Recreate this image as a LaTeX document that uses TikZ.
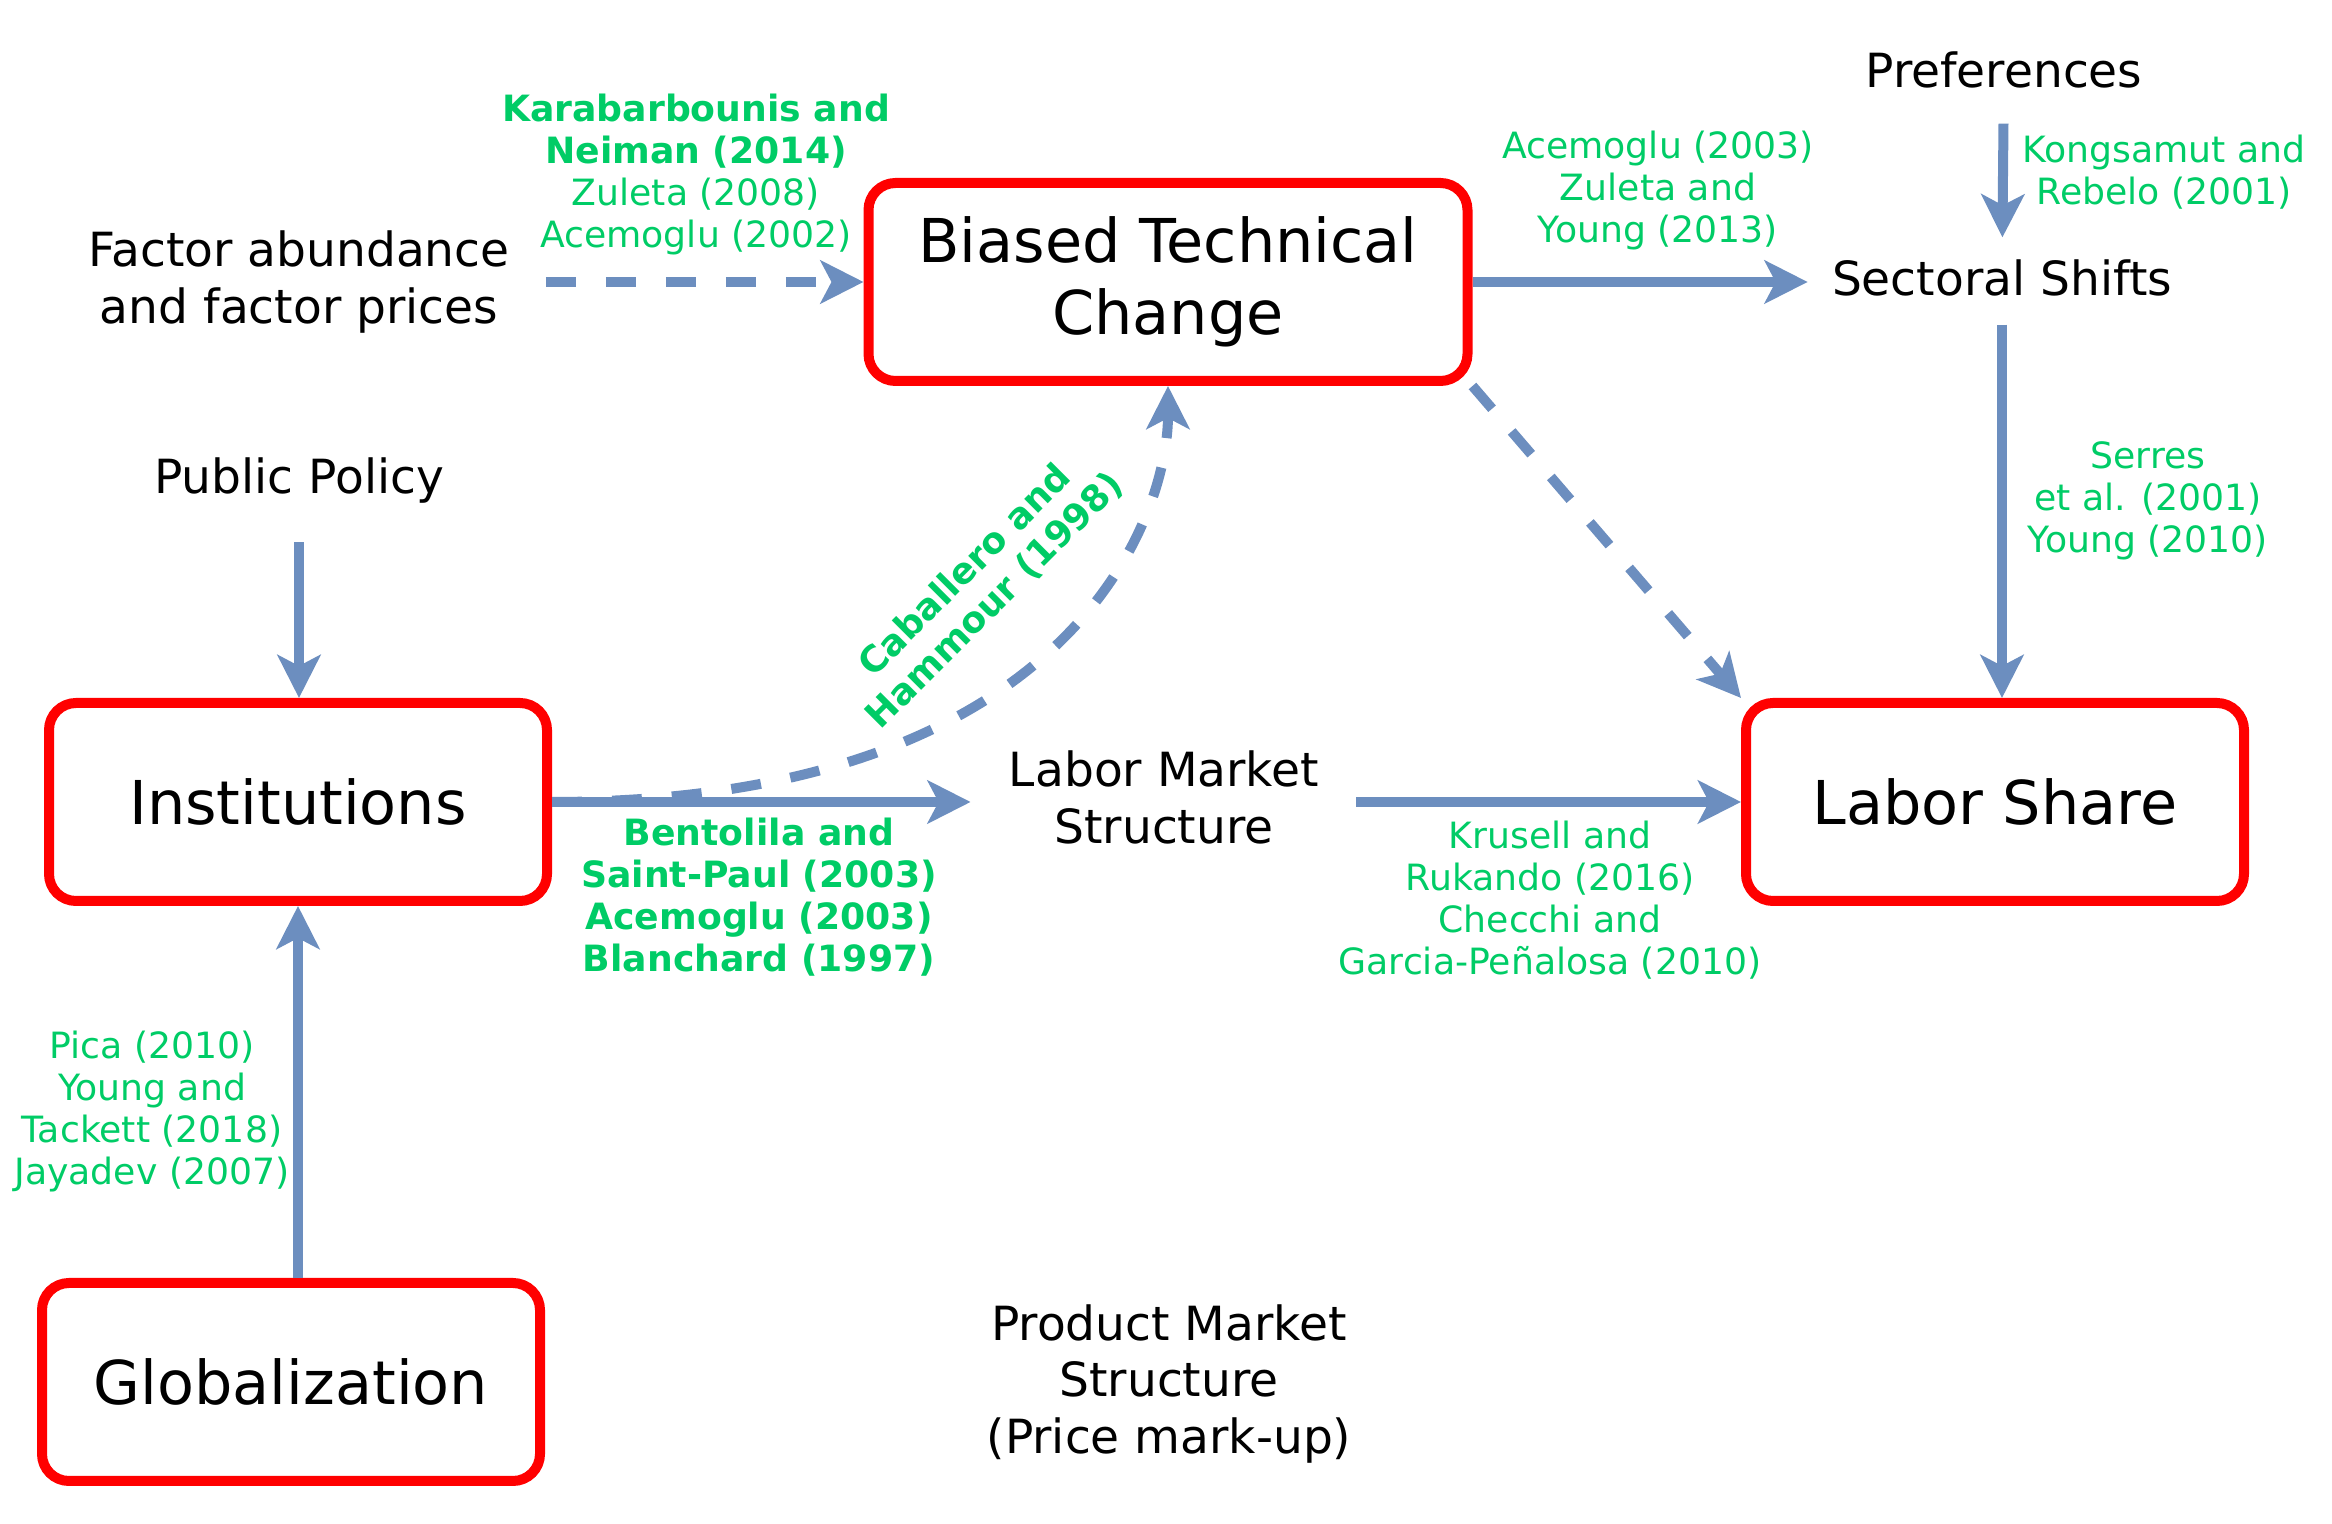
\documentclass[tikz,border=0pt]{standalone}
\usepackage{fontspec}
\setmainfont{DejaVu Sans}
\usetikzlibrary{arrows.meta}

\definecolor{boxred}{HTML}{FF0000}
\definecolor{linkblue}{HTML}{6C8EBF}
\definecolor{citegreen}{HTML}{00CC66}

\begin{document}
\begin{tikzpicture}
  \tikzset{factor/.style = {shape=rectangle,draw=boxred,line width=1mm,rounded corners=0.27cm,minimum width=4.98cm,minimum height=1.98cm,align=center,font=\fontsize{17.2}{20.5}\selectfont}}
  \tikzset{cause/.style = {align=center,font=\fontsize{13.4}{16.2}\selectfont}}
  \tikzset{cite/.style = {align=center,text=citegreen,font=\fontsize{10.3}{11.95}\selectfont}}
  \tikzset{citebold/.style = {cite,font=\fontsize{10.3}{11.95}\selectfont\bfseries}}
  \tikzset{link/.style = {-{Stealth[length=4.3mm,width=4.3mm,inset=1.1mm]},draw=linkblue,line width=1mm}}
  \tikzset{dashlink/.style = {link,dash pattern=on 3mm off 3mm}}
  \useasboundingbox (0,0) rectangle (23.32,15.24);

	\node[factor,minimum width=5.99cm] (btc) at (11.68,12.42) {Biased Technical\\Change};
	\node[factor] (inst) at (2.98,7.22) {Institutions};
	\node[factor] (ls) at (19.95,7.22) {Labor Share};
	\node[factor] (glob) at (2.91,1.42) {Globalization};

	\node[cause] (fab) at (2.99,12.42) {Factor abundance\\and factor prices};
	\node[cause] (pp) at (2.99,10.43) {Public Policy};
	\node[cause] (pref) at (20.04,14.54) {Preferences};
	\node[cause] (sect) at (20.02,12.46) {Sectoral Shifts};
	\node[cause] (lms) at (11.64,7.27) {Labor Market\\Structure};
	\node[cause] (pms) at (11.69,1.40) {Product Market\\Structure\\(Price mark-up)};

	\node[cite] (kn) at (6.96,13.49) {\textbf{Karabarbounis and}\\\textbf{Neiman (2014)}\\Zuleta (2008)\\Acemoglu (2002)};
	\node[cite] (azy) at (16.58,13.33) {Acemoglu (2003)\\Zuleta and\\Young (2013)};
	\node[cite] (kr) at (21.64,13.52) {Kongsamut and\\Rebelo (2001)};
	\node[cite] (sy) at (21.48,10.23) {Serres\\et al. (2001)\\Young (2010)};
	\node[citebold] (bsp) at (7.59,6.27) {Bentolila and\\Saint-Paul (2003)\\Acemoglu (2003)\\Blanchard (1997)};
	\node[cite] (krc) at (15.50,6.24) {Krusell and\\Rukando (2016)\\Checchi and\\Garcia-Peñalosa (2010)};
	\node[cite] (pyj) at (1.52,4.12) {Pica (2010)\\Young and\\Tackett (2018)\\Jayadev (2007)};
	\node[citebold,rotate=45] (ch) at (9.80,9.38) {Caballero and\\Hammour (1998)};

	\draw[dashlink,shorten <=0.24cm] (fab) -- (btc);
	\draw[link,shorten >=0.12cm] (btc) -- (sect.west |- btc);
	\draw[link,shorten <=0.23cm,shorten >=0.1cm] (pref) -- (sect);
	\draw[link,shorten <=0.16cm] (sect) -- (sect |- ls.north);
	\draw[link,shorten <=0.26cm] (pp) -- (pp |- inst.north);
	\draw[link] (inst.south |- glob.north) -- (inst.south);
	\draw[link,shorten >=0.26cm] (inst) -- (lms.west |- inst);
	\draw[link,shorten <=0.25cm] (lms.east |- ls) -- (ls);
	\draw[dashlink] (btc.south east) -- (ls.north west);
	\draw[dashlink] (inst.east) .. controls +(5.2,0) and +(0,-1.3) .. (btc.south);
\end{tikzpicture}
\end{document}
